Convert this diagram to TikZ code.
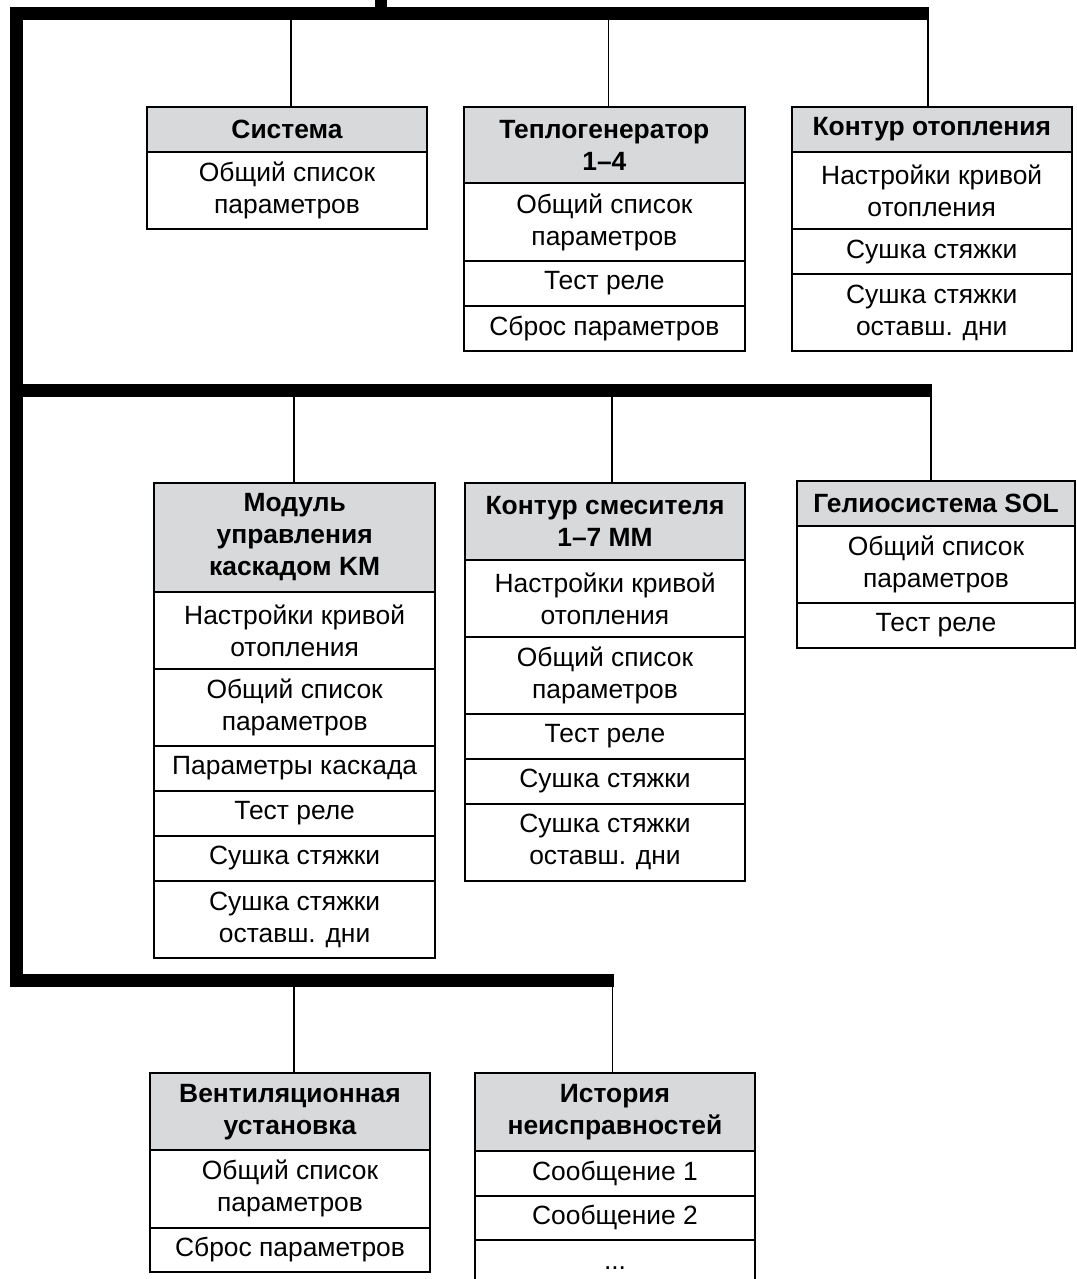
\documentclass[tikz,border=0pt]{standalone}
\usepackage{fontspec}
\setmainfont{Liberation Sans}
\definecolor{hdrgray}{RGB}{216,217,219}
\newcommand{\mkcell}[7]{%
  \node[#2, minimum width={(#5-#3)*0.75pt}, minimum height={(#6-#4)*0.75pt}]
    (#1) at ({(#3+#5)/2},{(#4+#6)/2+1}) {#7};}
\begin{document}
\begin{tikzpicture}[x=0.75pt,y=-0.75pt,
  cellbase/.style={draw=black, line width=1.4pt, inner sep=0pt, align=center,
    font=\fontsize{19.8pt}{24pt}\selectfont},
  hdr/.style={cellbase, fill=hdrgray, font=\fontsize{19.8pt}{24pt}\selectfont\bfseries},
  row/.style={cellbase, fill=white},
  bus/.style={fill=black},
  conn/.style={draw=black, line width=1.2pt}]
\useasboundingbox (0,0) rectangle (1077,1279);
\clip (0,0) rectangle (1077,1279);

% ---- buses ----
\fill[bus] (375,0) rectangle (387,8);
\fill[bus] (10,7) rectangle (929.3,20);
\fill[bus] (10,7) rectangle (23.3,987);
\fill[bus] (10,384) rectangle (932.3,397);
\fill[bus] (10,973.5) rectangle (614.3,987);

% ---- Система ----
\mkcell{sys}{hdr}{146.7}{105.7}{427.3}{150.7}{Система}
\mkcell{sys1}{row}{146.7}{150.7}{427.3}{228}{Общий список\\параметров}

% ---- Теплогенератор ----
\mkcell{tg}{hdr}{464}{105.7}{744.7}{182.3}{Теплогенератор\\1–4}
\mkcell{tg1}{row}{464}{182.3}{744.7}{260}{Общий список\\параметров}
\mkcell{tg2}{row}{464}{260}{744.7}{304.7}{Тест реле}
\mkcell{tg3}{row}{464}{304.7}{744.7}{349.7}{Сброс параметров}

% ---- Контур отопления ----
\mkcell{ko}{hdr}{791.7}{105.7}{1071.7}{151}{Контур отопления}
\mkcell{ko1}{row}{791.7}{151}{1071.7}{228.3}{Настройки кривой\\отопления}
\mkcell{ko2}{row}{791.7}{228.3}{1071.7}{273}{Сушка стяжки}
\mkcell{ko3}{row}{791.7}{273}{1071.7}{350}{Сушка стяжки\\оставш. дни}

% ---- Модуль управления каскадом ----
\mkcell{km}{hdr}{154.3}{482.3}{435}{590.7}{Модуль\\управления\\каскадом KM}
\mkcell{km1}{row}{154.3}{590.7}{435}{668}{Настройки кривой\\отопления}
\mkcell{km2}{row}{154.3}{668}{435}{745}{Общий список\\параметров}
\mkcell{km3}{row}{154.3}{745}{435}{790}{Параметры каскада}
\mkcell{km4}{row}{154.3}{790}{435}{835}{Тест реле}
\mkcell{km5}{row}{154.3}{835}{435}{880}{Сушка стяжки}
\mkcell{km6}{row}{154.3}{880}{435}{957.3}{Сушка стяжки\\оставш. дни}

% ---- Контур смесителя ----
\mkcell{mm}{hdr}{465}{481.7}{745}{559}{Контур смесителя\\1–7 MM}
\mkcell{mm1}{row}{465}{559}{745}{635.7}{Настройки кривой\\отопления}
\mkcell{mm2}{row}{465}{635.7}{745}{713}{Общий список\\параметров}
\mkcell{mm3}{row}{465}{713}{745}{758}{Тест реле}
\mkcell{mm4}{row}{465}{758}{745}{803}{Сушка стяжки}
\mkcell{mm5}{row}{465}{803}{745}{879.7}{Сушка стяжки\\оставш. дни}

% ---- Гелиосистема ----
\mkcell{sol}{hdr}{797}{480}{1075}{524.7}{Гелиосистема SOL}
\mkcell{sol1}{row}{797}{524.7}{1075}{602.3}{Общий список\\параметров}
\mkcell{sol2}{row}{797}{602.3}{1075}{646.7}{Тест реле}

% ---- Вентиляционная установка ----
\mkcell{vent}{hdr}{150}{1072.3}{430}{1149}{Вентиляционная\\установка}
\mkcell{vent1}{row}{150}{1149}{430}{1226.7}{Общий список\\параметров}
\mkcell{vent2}{row}{150}{1226.7}{430}{1271.3}{Сброс параметров}

% ---- История неисправностей ----
\mkcell{hist}{hdr}{475}{1071.7}{755}{1149.7}{История\\неисправностей}
\mkcell{hist1}{row}{475}{1149.7}{755}{1194.7}{Сообщение 1}
\mkcell{hist2}{row}{475}{1194.7}{755}{1239}{Сообщение 2}
\mkcell{hist3}{row}{475}{1239}{755}{1295}{...}

% ---- connectors ----
\coordinate (j1) at (291,20);
\coordinate (j2) at (608.3,20);
\coordinate (j3) at (928,20);
\coordinate (j4) at (294,397);
\coordinate (j5) at (611.7,397);
\coordinate (j6) at (931,397);
\coordinate (j7) at (294,987);
\coordinate (j8) at (612.3,987);
\draw[conn] (j1) -- (j1 |- sys.north);
\draw[conn] (j2) -- (j2 |- tg.north);
\draw[conn] (j3) -- (j3 |- ko.north);
\draw[conn] (j4) -- (j4 |- km.north);
\draw[conn] (j5) -- (j5 |- mm.north);
\draw[conn] (j6) -- (j6 |- sol.north);
\draw[conn] (j7) -- (j7 |- vent.north);
\draw[conn] (j8) -- (j8 |- hist.north);
\end{tikzpicture}
\end{document}
